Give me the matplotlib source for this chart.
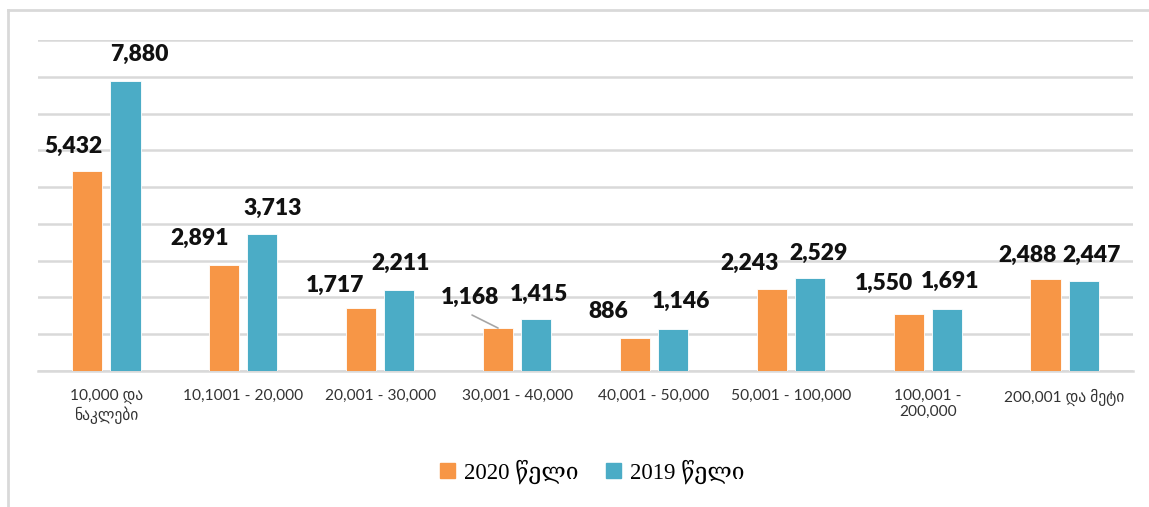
import matplotlib

matplotlib.use("Agg")
import matplotlib.pyplot as plt
import numpy as np
from matplotlib.lines import Line2D
from matplotlib.patches import Patch

categories = [
    "10,000 და\nნაკლები",
    "10,1001 - 20,000",
    "20,001 - 30,000",
    "30,001 - 40,000",
    "40,001 - 50,000",
    "50,001 - 100,000",
    "100,001 -\n200,000",
    "200,001 და მეტი",
]
values_2020 = [5432, 2891, 1717, 1168, 886, 2243, 1550, 2488]
values_2019 = [7880, 3713, 2211, 1415, 1146, 2529, 1691, 2447]
series_names = ["2020 წელი", "2019 წელი"]

# label nudges in pixels (the original labels were dragged by hand)
nudge_2020 = [(-14, 25), (-25, 26), (-26, 22), (-28, 31), (-27, 27), (-22, 25), (-25, 31), (-18, 24)]
nudge_2019 = [(14, 27), (10, 26), (1, 26), (3, 25), (8, 27), (9, 25), (3, 27), (8, 26)]

orange = "#F79646"
blue = "#4BACC6"
grid_c = "#d9d9d9"

fig = plt.figure(figsize=(11.49, 5.07), dpi=100)
ax = fig.add_axes([38 / 1149, 136 / 507, 1095 / 1149, 331 / 507])

x = np.arange(len(categories))
w = 0.22
off = 0.139
ax.bar(x - off, values_2020, w, color=orange, edgecolor="white", linewidth=0.6, zorder=3)
ax.bar(x + off, values_2019, w, color=blue, edgecolor="white", linewidth=0.6, zorder=3)

ax.set_xlim(-0.5, len(categories) - 0.5)
ax.set_ylim(0, 9000)
ax.set_yticks(np.arange(0, 9001, 1000))
ax.yaxis.grid(True, color=grid_c, linewidth=1.8, zorder=0)
ax.tick_params(axis="y", left=False, labelleft=False)
for s in ["top", "right", "left"]:
    ax.spines[s].set_visible(False)
ax.spines["bottom"].set_color(grid_c)
ax.spines["bottom"].set_linewidth(1.8)

ax.set_xticks(x)
ax.set_xticklabels(categories, family=["Lato", "DejaVu Sans"], fontsize=11.2, color="#333333", linespacing=1.2)
ax.tick_params(axis="x", length=0, pad=13)

lab_font = dict(family=["Lato", "DejaVu Sans"], fontsize=16.5, fontweight="heavy", color="#111111",
                ha="center", va="center", textcoords="offset pixels", zorder=5)
for i, v in enumerate(values_2020):
    dx, dy = nudge_2020[i]
    ax.annotate(f"{v:,}", (x[i] - off, v), xytext=(dx, dy), **lab_font)
for i, v in enumerate(values_2019):
    dx, dy = nudge_2019[i]
    ax.annotate(f"{v:,}", (x[i] + off, v), xytext=(dx, dy), **lab_font)

# leader line for the 1,168 label
ax.annotate("", (x[3] - off, values_2020[3]), xytext=(-26, 13), textcoords="offset pixels",
            arrowprops=dict(arrowstyle="-", color="#a6a6a6", lw=1.2, shrinkA=0, shrinkB=0))

handles = [Patch(color=orange), Patch(color=blue)]
fig.legend(handles, series_names, loc="center", bbox_to_anchor=(592 / 1149, 1 - 472 / 507), ncol=2,
           frameon=False, prop={"family": ["Liberation Serif", "DejaVu Serif", "DejaVu Sans"], "size": 16.5},
           handlelength=0.65, handleheight=0.65, handletextpad=0.4, columnspacing=1.2)

# outer border of the chart area
fig.add_artist(Line2D([8 / 1149, 1], [1 - 10 / 507, 1 - 10 / 507], color=grid_c, lw=2, transform=fig.transFigure))
fig.add_artist(Line2D([8 / 1149, 8 / 1149], [0, 1 - 10 / 507], color=grid_c, lw=2, transform=fig.transFigure))

fig.savefig("out.png", dpi=100)
